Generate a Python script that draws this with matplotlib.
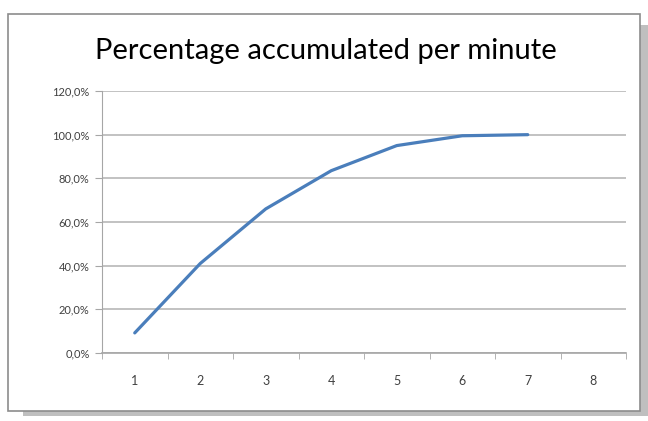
import matplotlib.pyplot as plt
from matplotlib.patches import Rectangle
from matplotlib.ticker import FuncFormatter

# data
minutes = [1, 2, 3, 4, 5, 6, 7]
accumulated = [9.2, 41.0, 66.0, 83.5, 95.0, 99.5, 100.0]
x_categories = [1, 2, 3, 4, 5, 6, 7, 8]
y_ticks = [0, 20, 40, 60, 80, 100, 120]

W, H = 648, 421
fig = plt.figure(figsize=(W / 100, H / 100), dpi=100)

# shadow and chart border
fig.patches.append(Rectangle((23 / W, 5 / H), 625 / W, (H - 30) / H,
                             transform=fig.transFigure, facecolor='#bfbfbf',
                             edgecolor='none', zorder=0))
fig.patches.append(Rectangle((8 / W, 10 / H), 632 / W, (H - 24) / H,
                             transform=fig.transFigure, facecolor='white',
                             edgecolor='#8c8c8c', linewidth=1.2, zorder=1))

ax = fig.add_axes([102 / W, (H - 353) / H, 524 / W, 262 / H])
ax.set_zorder(2)
ax.patch.set_alpha(0)

ax.plot(minutes, accumulated, color='#4a7ebb', linewidth=2.3, solid_capstyle='round')

ax.set_xlim(0.5, 8.5)
ax.set_ylim(0, 120)
ax.set_yticks(y_ticks)
ax.yaxis.set_major_formatter(FuncFormatter(lambda v, p: f"{v:.1f}".replace('.', ',') + '%'))
ax.set_xticks(x_categories)
ax.set_xticks([c - 0.5 for c in x_categories] + [8.5], minor=True)
ax.tick_params(axis='x', which='major', length=0, pad=16, labelsize=9, labelcolor='#404040')
ax.tick_params(axis='x', which='minor', length=4, color='#a6a6a6', direction='out')
ax.tick_params(axis='y', length=5, color='#a6a6a6', pad=4, labelsize=8, labelcolor='#404040')
for lab in ax.get_xticklabels() + ax.get_yticklabels():
    lab.set_family('Lato')

ax.grid(axis='y', color='#b8b8b8', linewidth=1.2)
ax.set_axisbelow(True)
for s in ['top', 'right']:
    ax.spines[s].set_visible(False)
ax.spines['left'].set_color('#a6a6a6')
ax.spines['bottom'].set_color('#a6a6a6')
ax.spines['bottom'].set_linewidth(1.2)

fig.text(326 / W, 1 - 51 / H, 'Percentage accumulated per minute', ha='center', va='center',
         fontsize=21, family='Lato', color='black')

fig.savefig('out.png', dpi=100)
